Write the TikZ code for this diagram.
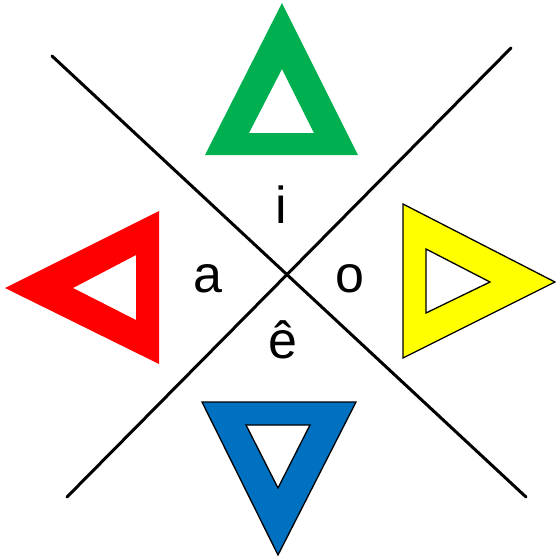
\documentclass[tikz,border=0pt]{standalone}
\usepackage{fontspec}
\setmainfont{Liberation Sans}
\definecolor{tgreen}{HTML}{00B050}
\definecolor{tred}{HTML}{FF0000}
\definecolor{tyellow}{HTML}{FFFF00}
\definecolor{tblue}{HTML}{0070C0}
\begin{document}
\begin{tikzpicture}[x=1pt,y=-1pt,
  xline/.style={line width=3pt,line cap=round},
  tri/.style={even odd rule},
  outl/.style={draw=black,line width=1.3pt,line join=miter},
  vowel/.style={anchor=base,inner sep=0pt,font=\fontsize{52}{60}\selectfont}]
\useasboundingbox (0,0) rectangle (556,558);
% crossing lines
\coordinate (l1a) at (52,56);
\coordinate (l1b) at (526,497);
\coordinate (l2a) at (511,48);
\coordinate (l2b) at (67,497);
\draw[xline] (l1a) -- (l1b);
\draw[xline] (l2a) -- (l2b);
% green triangle (up)
\fill[tgreen,tri] (282,3) -- (358,155) -- (205,155) -- cycle
  (282,69) -- (314,133) -- (249,133) -- cycle;
% red triangle (left)
\fill[tred,tri] (5,288) -- (159,211) -- (159,364) -- cycle
  (73,288) -- (136,255) -- (136,320) -- cycle;
% yellow triangle (right)
\filldraw[fill=tyellow,outl,tri] (403,204) -- (555,282) -- (403,358) -- cycle
  (426,249) -- (490,282) -- (426,313) -- cycle;
% blue triangle (down)
\filldraw[fill=tblue,outl,tri] (202,402) -- (356,402) -- (278,555) -- cycle
  (246,425) -- (310,425) -- (278,488) -- cycle;
% labels
\node[vowel] (vi) at (281,223) {i};
\node[vowel] (va) at (208,292) {a};
\node[vowel] (vo) at (350,292) {o};
\node[vowel] (ve) at (283,358) {ê};
\end{tikzpicture}
\end{document}
